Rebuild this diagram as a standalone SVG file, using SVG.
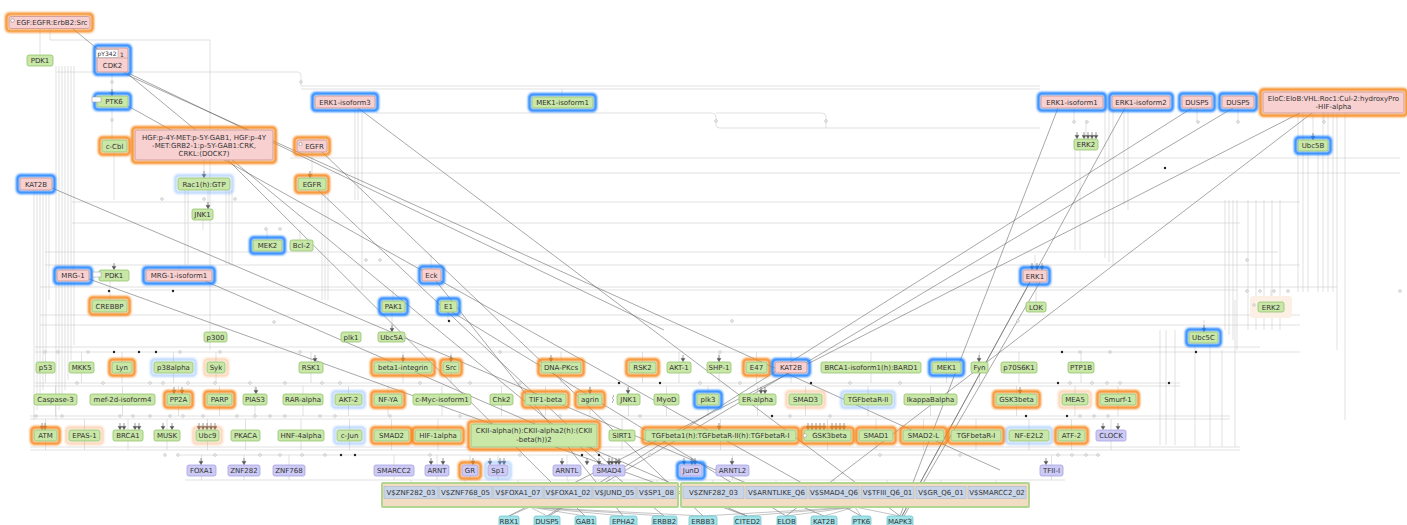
<svg xmlns="http://www.w3.org/2000/svg" width="1407" height="525" viewBox="0 0 1407 525">
<defs>
<filter id="gl" x="-30%" y="-60%" width="160%" height="220%"><feGaussianBlur stdDeviation="0.9"/></filter>
<path id="ar" d="M-1.8,-3.6 H1.8 L0,-0.4 Z M0,-3.6 V-7"/>
<style>
text{font-family:"DejaVu Sans","Liberation Sans",sans-serif;font-size:7px;fill:#333;text-anchor:middle}
.g{fill:#c9e7a7;stroke:#93c46e;stroke-width:0.8}
.p{fill:#f8d0d0;stroke:#c99090;stroke-width:0.8}
.v{fill:#cdcbf6;stroke:#a6a2e2;stroke-width:0.8}
.c{fill:#a3e3e9;stroke:#6cc6cf;stroke-width:0.8}
.ho,.hb,.hol,.hbl{fill:none;stroke-width:3;filter:url(#gl)}
.ho{stroke:#f6871f}
.hb{stroke:#1f80ff}
.hol{stroke:#f6a05a;opacity:.45}
.hbl{stroke:#6aa8ff;opacity:.45}
.e{fill:none;stroke:#cdcdcd;stroke-width:0.6}
.d{fill:none;stroke:#606060;stroke-width:0.55}
.m{fill:none;stroke:#8a8a8a;stroke-width:0.5}
.oc{fill:#fff;stroke:#aaa;stroke-width:0.6}
.bd{fill:#222}
.arr{fill:#555;stroke:#555;stroke-width:0.6}
.tag{fill:#fff;stroke:#999;stroke-width:0.5}
.mod{fill:#f2dcc2;stroke:#b3d592;stroke-width:2}
.cell{fill:#c8d5e8;stroke:#a9b8cc;stroke-width:0.6}
</style>
</defs>
<rect width="1407" height="525" fill="#fff"/>

<g id="connectors">
<path class="e" d="M56,66V420 M59,66V410 M62,66V400 M65,66V390 M68,66V380 M71,66V360 M74,66V345 M34,190V420 M37,190V410 M40,190V400 M43,190V390 M46,190V352 M49,190V300"/>
<path class="e" d="M57,72H298Q301,72 301,76V86H1040 M301,89H1040 M376,113H712Q716,113 716,117V125Q716,128 720,128H1040 M716,113H822Q826,113 826,117V128 M290,158H1400 M330,173H1400"/>
<path class="e" d="M72,202H1300 M72,223H1240 M45,252H1278 M45,265H1300 M40,287H1337 M130,290H1237 M40,315H1300 M40,325H1300 M35,347H1260 M35,352H1300 M35,383H1180 M35,386H1180 M30,416H1230 M30,419H1230 M30,447H1240 M30,450H1240 M180,455H1100 M185,480H1065"/>
<path class="e" d="M185,190V265 M188,190V265 M226,190V265 M229,190V265 M232,190V265 M322,190V300 M325,190V300 M328,190V300 M362,113V290 M358,108V200 M355,108V200 M204,160V178 M312,152V178 M112,72V96 M112,107V140 M114,152V200 M40,29V55 M50,29V40H210V350 M208,190V209 M203,220V230 M267,230V240 M300,230V240 M73,265V270 M179,265V270 M110,281V300 M392,312V332 M448,312V321 M393,290V301 M431,255V269 M1035,255V270 M1036,282V302 M1271,290V302 M1204,320V332 M1086,120V139 M1313,113V140 M562,89V97"/>
<path class="e" d="M1105,108V258 M1109,108V262 M1113,108V266 M1124,108V205 M1128,108V210 M1075,150V250 M1080,150V250 M1225,200V330 M1229,200V335 M1233,200V340 M1237,200V350 M1248,200V330 M1256,200V330 M1264,200V330 M1272,200V330 M1280,200V330 M1298,113V292 M1303,113V292 M1308,150V292 M1318,150V292 M1323,113V292 M1328,113V292 M1333,113V292 M1337,113V350 M1345,113V420 M1160,330V445 M1166,330V445 M1175,330V445 M1195,345V447 M1210,345V447 M1222,350V447 M1235,300V447 M1197,108V122 M1238,108V122 M1324,113V122 M1074,108V122"/>
<path class="e" d="M45.5,362V352M81.5,362V352M122,362V352M173.5,362V352M216,362V352M311,362V352M403,362V352M451,362V352M561,362V352M642.5,362V352M679,362V352M719,362V352M756.5,362V352M791,362V352M871,362V352M946.5,362V352M979.5,362V352M1019,362V352M1081,362V352 M45.5,373V383M81.5,373V383M122,373V383M173.5,373V383M216,373V383M311,373V383M403,373V383M451,373V383M561,373V383M642.5,373V383M679,373V383M719,373V383M756.5,373V383M791,373V383M871,373V383M946.5,373V383M979.5,373V383M1019,373V383M1081,373V383"/>
<path class="e" d="M55.5,394V386M122.5,394V386M178.5,394V386M219.5,394V386M255,394V386M303,394V386M348.5,394V386M388,394V386M442,394V386M501.5,394V386M545.5,394V386M590,394V386M628.5,394V386M666.5,394V386M708,394V386M757.5,394V386M805.5,394V386M868,394V386M930.5,394V386M1016.5,394V386M1075,394V386M1118,394V386 M55.5,405V416M122.5,405V416M178.5,405V416M219.5,405V416M255,405V416M303,405V416M348.5,405V416M388,405V416M442,405V416M501.5,405V416M545.5,405V416M590,405V416M628.5,405V416M666.5,405V416M708,405V416M757.5,405V416M805.5,405V416M868,405V416M930.5,405V416M1016.5,405V416M1075,405V416M1118,405V416"/>
<path class="e" d="M45.5,430V419M84.5,430V419M128,430V419M167,430V419M207.5,430V419M245.5,430V419M301,430V419M349.5,430V419M391.5,430V419M438,430V419M534,424V419M622,430V419M720.5,430V419M827.5,430V419M876,430V419M923.5,430V419M976,430V419M1029,430V419M1071.5,430V419M1111,430V419 M45.5,441V450M84.5,441V450M128,441V450M167,441V450M207.5,441V450M245.5,441V450M301,441V450M349.5,441V450M391.5,441V450M438,441V450M534,447V450M622,441V450M720.5,441V450M827.5,441V450M876,441V450M923.5,441V450M976,441V450M1029,441V450M1071.5,441V450M1111,441V450"/>
<path class="e" d="M201.5,465V455M244,465V455M289,465V455M394,465V455M437,465V455M470,465V455M498,465V455M567,465V455M609,465V455M691,465V455M732.5,465V455M1051.5,465V455 M201.5,476V480M244,476V480M289,476V480M394,476V480M437,476V480M470,476V480M498,476V480M567,476V480M609,476V480M691,476V480M732.5,476V480M1051.5,476V480 M411,480V486 M465,480V486 M518,480V486 M568,480V486 M614,480V486 M657,480V486 M713,480V486 M776,480V486 M834,480V486 M887,480V486 M941,480V486 M996,480V486"/>
<path class="d" d="M72,28L664,516 M123,73L1000,470 M128,73L664,330 M228,160L585,516 M52,188L824,516 M89,279L747,516 M205,281L747,516 M128,106L861,516 M358,108L900,516 M436,281L623,516 M322,152L703,516 M318,190L610,465 M452,312L786,516 M1058,108L900,516 M1125,108L902,516 M1030,282L902,516 M1040,282L904,516 M1192,108L547,516 M1233,108L549,516 M1300,113L509,516 M1312,113L786,516"/>
<path class="m" d="M530,507L509,516 M530,507L547,516 M530,507L585,516 M530,507L623,516 M530,507L664,516 M530,507L703,516 M855,507L747,516 M855,507L786,516 M855,507L824,516 M855,507L861,516 M855,507L900,516 M855,507L703,516"/>
<g class="bd">
<circle cx="109" cy="291" r="1.2"/><circle cx="173" cy="291" r="1.2"/><circle cx="449" cy="321" r="1.2"/><circle cx="1165" cy="168" r="1.2"/><circle cx="114" cy="352" r="1.2"/><circle cx="139" cy="352" r="1.2"/><circle cx="156" cy="352" r="1.2"/><circle cx="619" cy="383" r="1.2"/><circle cx="660" cy="383" r="1.2"/><circle cx="811" cy="383" r="1.2"/><circle cx="772" cy="416" r="1.2"/><circle cx="1026" cy="416" r="1.2"/><circle cx="1062" cy="352" r="1.2"/><circle cx="1058" cy="383" r="1.2"/><circle cx="1169" cy="383" r="1.2"/><circle cx="1067" cy="416" r="1.2"/><circle cx="355" cy="455" r="1.2"/><circle cx="582" cy="455" r="1.2"/><circle cx="599" cy="455" r="1.2"/><circle cx="341" cy="455" r="1.2"/><circle cx="1196" cy="352" r="1.2"/>
</g>
<g class="oc">
<circle cx="301" cy="82" r="1.3"/><circle cx="716" cy="121" r="1.3"/><circle cx="826" cy="121" r="1.3"/><circle cx="1074" cy="122" r="1.3"/><circle cx="1087" cy="122" r="1.3"/><circle cx="1198" cy="122" r="1.3"/><circle cx="1238" cy="122" r="1.3"/><circle cx="1324" cy="122" r="1.3"/><circle cx="112" cy="82" r="1.3"/><circle cx="112" cy="120" r="1.3"/><circle cx="162" cy="199" r="1.3"/><circle cx="204" cy="199" r="1.3"/><circle cx="235" cy="199" r="1.3"/><circle cx="266" cy="229" r="1.3"/><circle cx="280" cy="229" r="1.3"/><circle cx="366" cy="260" r="1.3"/><circle cx="380" cy="260" r="1.3"/><circle cx="274" cy="322" r="1.3"/><circle cx="1247" cy="260" r="1.3"/><circle cx="1247" cy="291" r="1.3"/><circle cx="1260" cy="291" r="1.3"/><circle cx="1274" cy="291" r="1.3"/><circle cx="1288" cy="291" r="1.3"/><circle cx="1400" cy="291" r="1.3"/><circle cx="1018" cy="321" r="1.3"/><circle cx="732" cy="321" r="1.3"/>
<circle cx="45" cy="352" r="1.3"/><circle cx="58" cy="352" r="1.3"/><circle cx="88" cy="352" r="1.3"/><circle cx="180" cy="352" r="1.3"/><circle cx="220" cy="352" r="1.3"/><circle cx="300" cy="352" r="1.3"/><circle cx="500" cy="352" r="1.3"/><circle cx="720" cy="352" r="1.3"/><circle cx="1080" cy="352" r="1.3"/><circle cx="1110" cy="352" r="1.3"/>
<circle cx="77" cy="383" r="1.3"/><circle cx="103" cy="383" r="1.3"/><circle cx="150" cy="383" r="1.3"/><circle cx="163" cy="383" r="1.3"/><circle cx="188" cy="383" r="1.3"/><circle cx="215" cy="383" r="1.3"/><circle cx="250" cy="383" r="1.3"/><circle cx="285" cy="383" r="1.3"/><circle cx="322" cy="383" r="1.3"/><circle cx="340" cy="383" r="1.3"/><circle cx="420" cy="383" r="1.3"/><circle cx="470" cy="383" r="1.3"/><circle cx="520" cy="383" r="1.3"/><circle cx="700" cy="383" r="1.3"/><circle cx="740" cy="383" r="1.3"/><circle cx="850" cy="383" r="1.3"/><circle cx="900" cy="383" r="1.3"/><circle cx="1070" cy="383" r="1.3"/><circle cx="1092" cy="383" r="1.3"/><circle cx="1107" cy="383" r="1.3"/><circle cx="1120" cy="383" r="1.3"/>
<circle cx="36" cy="416" r="1.3"/><circle cx="62" cy="416" r="1.3"/><circle cx="120" cy="416" r="1.3"/><circle cx="133" cy="416" r="1.3"/><circle cx="150" cy="416" r="1.3"/><circle cx="170" cy="416" r="1.3"/><circle cx="183" cy="416" r="1.3"/><circle cx="203" cy="416" r="1.3"/><circle cx="237" cy="416" r="1.3"/><circle cx="255" cy="416" r="1.3"/><circle cx="270" cy="416" r="1.3"/><circle cx="285" cy="416" r="1.3"/><circle cx="320" cy="416" r="1.3"/><circle cx="335" cy="416" r="1.3"/><circle cx="390" cy="416" r="1.3"/><circle cx="460" cy="416" r="1.3"/><circle cx="560" cy="416" r="1.3"/><circle cx="640" cy="416" r="1.3"/><circle cx="790" cy="416" r="1.3"/><circle cx="830" cy="416" r="1.3"/><circle cx="1080" cy="416" r="1.3"/><circle cx="1094" cy="416" r="1.3"/><circle cx="1108" cy="416" r="1.3"/>
<circle cx="165" cy="455" r="1.3"/><circle cx="178" cy="455" r="1.3"/><circle cx="215" cy="455" r="1.3"/><circle cx="260" cy="455" r="1.3"/><circle cx="280" cy="455" r="1.3"/><circle cx="302" cy="455" r="1.3"/><circle cx="325" cy="455" r="1.3"/><circle cx="430" cy="455" r="1.3"/><circle cx="520" cy="455" r="1.3"/><circle cx="650" cy="455" r="1.3"/><circle cx="880" cy="455" r="1.3"/><circle cx="960" cy="455" r="1.3"/><circle cx="1058" cy="455" r="1.3"/><circle cx="1072" cy="455" r="1.3"/><circle cx="1086" cy="455" r="1.3"/><circle cx="1098" cy="455" r="1.3"/>
</g>
<g class="arr">
<use href="#ar" x="112" y="96"/><use href="#ar" x="208" y="209"/><use href="#ar" x="114" y="270"/><use href="#ar" x="392" y="332"/><use href="#ar" x="1204" y="332"/>
<use href="#ar" x="1077" y="139"/><use href="#ar" x="1084" y="139"/><use href="#ar" x="1088" y="139"/><use href="#ar" x="1092" y="139"/><use href="#ar" x="1096" y="139"/><use href="#ar" x="1313" y="140"/>
<use href="#ar" x="1032" y="270"/><use href="#ar" x="1037" y="270"/><use href="#ar" x="1042" y="270"/><use href="#ar" x="310" y="178"/><use href="#ar" x="204" y="178"/>
<use href="#ar" x="315" y="362"/><use href="#ar" x="403" y="362"/><use href="#ar" x="451" y="362"/><use href="#ar" x="551" y="362"/><use href="#ar" x="683" y="362"/><use href="#ar" x="719" y="362"/><use href="#ar" x="979" y="362"/>
<use href="#ar" x="174" y="394"/><use href="#ar" x="182" y="394"/><use href="#ar" x="256" y="394"/><use href="#ar" x="590" y="394"/><use href="#ar" x="628" y="394"/><use href="#ar" x="761" y="394"/><use href="#ar" x="765" y="394"/><use href="#ar" x="1020" y="394"/>
<use href="#ar" x="42" y="430"/><use href="#ar" x="45" y="430"/><use href="#ar" x="120" y="430"/><use href="#ar" x="124" y="430"/><use href="#ar" x="135" y="430"/><use href="#ar" x="139" y="430"/><use href="#ar" x="163" y="430"/><use href="#ar" x="172" y="430"/>
<use href="#ar" x="199" y="430"/><use href="#ar" x="203" y="430"/><use href="#ar" x="207" y="430"/><use href="#ar" x="211" y="430"/><use href="#ar" x="215" y="430"/><use href="#ar" x="719" y="430"/>
<use href="#ar" x="808" y="430"/><use href="#ar" x="812" y="430"/><use href="#ar" x="816" y="430"/><use href="#ar" x="820" y="430"/><use href="#ar" x="824" y="430"/><use href="#ar" x="832" y="430"/><use href="#ar" x="836" y="430"/><use href="#ar" x="840" y="430"/><use href="#ar" x="844" y="430"/>
<use href="#ar" x="1103" y="430"/><use href="#ar" x="1118" y="430"/>
<use href="#ar" x="201" y="465"/><use href="#ar" x="244" y="465"/><use href="#ar" x="431" y="465"/><use href="#ar" x="443" y="465"/><use href="#ar" x="473" y="465"/><use href="#ar" x="490" y="465"/><use href="#ar" x="500" y="465"/><use href="#ar" x="504" y="465"/><use href="#ar" x="562" y="465"/>
<use href="#ar" x="587" y="465"/><use href="#ar" x="599" y="465"/><use href="#ar" x="609" y="465"/><use href="#ar" x="612" y="465"/><use href="#ar" x="616" y="465"/><use href="#ar" x="619" y="465"/><use href="#ar" x="684" y="465"/><use href="#ar" x="692" y="465"/><use href="#ar" x="695" y="465"/><use href="#ar" x="732" y="465"/><use href="#ar" x="1046" y="465"/>
</g>
</g>

<g id="n-egf"><rect class="ho" x="6.5" y="14" width="86" height="17" rx="3"/><rect class="p" x="9" y="16.5" width="81" height="12" rx="2"/><circle cx="12.5" cy="20.5" r="1.8" fill="#fff" stroke="#777" stroke-width="0.5"/><text x="52" y="25">EGF:EGFR:ErbB2:Src</text></g>
<g id="n-cdk2"><rect class="hb" x="94.5" y="45.5" width="36" height="29" rx="3"/><rect class="p" x="97" y="48" width="31" height="24" rx="2"/><path d="M97,58H128" stroke="#c99090" stroke-width="0.6"/><rect class="tag" x="96" y="49.5" width="22" height="8"/><text x="107" y="56" style="font-size:6px">pY342</text><text x="122" y="56.5" style="font-size:6px">1</text><text x="112.5" y="68">CDK2</text></g>
<g id="n-pdk1a"><rect class="g" x="27" y="55" width="26" height="11" rx="2"/><text x="40" y="63">PDK1</text></g>
<g id="n-ptk6a"><rect class="hb" x="94.5" y="93.5" width="36" height="16" rx="3"/><rect class="g" x="97" y="96" width="31" height="11" rx="2"/><rect class="tag" x="92" y="97" width="9" height="5"/><text x="114" y="104">PTK6</text></g>
<g id="n-ccbl"><rect class="ho" x="99.5" y="137.5" width="30" height="17" rx="3"/><rect class="g" x="102" y="140" width="25" height="12" rx="2"/><text x="114.5" y="148.5">c-Cbl</text></g>
<g id="n-hgf"><rect class="ho" x="132.5" y="127.5" width="143" height="35" rx="3"/><rect class="p" x="135" y="130" width="138" height="30" rx="2"/><text x="204" y="139.5">HGF:p-4Y-MET:p-5Y-GAB1, HGF:p-4Y</text><text x="204" y="147.5">-MET:GRB2-1:p-5Y-GAB1:CRK,</text><text x="204" y="155.5">CRKL:(DOCK7)</text></g>
<g id="n-egfr1"><rect class="ho" x="294.5" y="137.5" width="35" height="17" rx="3"/><rect class="p" x="297" y="140" width="30" height="12" rx="2"/><circle cx="300.5" cy="144" r="1.6" fill="#fff" stroke="#777" stroke-width="0.5"/><text x="314.5" y="148.5">EGFR</text></g>
<g id="n-erk1iso3"><rect class="hb" x="312.5" y="93.5" width="65" height="17" rx="3"/><rect class="p" x="315" y="96" width="60" height="12" rx="2"/><text x="345" y="104.5">ERK1-isoform3</text></g>
<g id="n-mek1iso1"><rect class="hb" x="529.5" y="94.5" width="66" height="16" rx="3"/><rect class="g" x="532" y="97" width="61" height="11" rx="2"/><text x="562.5" y="105">MEK1-isoform1</text></g>
<g id="n-erk1iso1"><rect class="hb" x="1038.5" y="93.5" width="67" height="17" rx="3"/><rect class="p" x="1041" y="96" width="62" height="12" rx="2"/><text x="1072" y="104.5">ERK1-isoform1</text></g>
<g id="n-erk1iso2"><rect class="hb" x="1109.5" y="93.5" width="63" height="17" rx="3"/><rect class="p" x="1112" y="96" width="58" height="12" rx="2"/><text x="1141" y="104.5">ERK1-isoform2</text></g>
<g id="n-dusp5a"><rect class="hb" x="1179.5" y="93.5" width="35" height="17" rx="3"/><rect class="p" x="1182" y="96" width="30" height="12" rx="2"/><text x="1197" y="104.5">DUSP5</text></g>
<g id="n-dusp5b"><rect class="hb" x="1219.5" y="93.5" width="37" height="17" rx="3"/><rect class="p" x="1222" y="96" width="32" height="12" rx="2"/><text x="1238" y="104.5">DUSP5</text></g>
<g id="n-eloc"><rect class="ho" x="1260.5" y="89.5" width="146" height="26" rx="3"/><rect class="p" x="1263" y="92" width="141" height="21" rx="2"/><text x="1333.5" y="100.5">EloC:EloB:VHL:Roc1:Cul-2:hydroxyPro</text><text x="1333.5" y="109">-HIF-alpha</text></g>
<g id="n-erk2a"><rect class="g" x="1074" y="139" width="24" height="11" rx="2"/><text x="1086" y="147">ERK2</text></g>
<g id="n-ubc5b"><rect class="hb" x="1295.5" y="137.5" width="35" height="16" rx="3"/><rect class="g" x="1298" y="140" width="30" height="11" rx="2"/><text x="1313" y="148">Ubc5B</text></g>
<g id="n-kat2b1"><rect class="hb" x="17.5" y="175.5" width="37" height="17" rx="3"/><rect class="p" x="20" y="178" width="32" height="12" rx="2"/><text x="36" y="186.5">KAT2B</text></g>
<g id="n-rac1"><rect class="hbl" x="175.5" y="175.5" width="57" height="17" rx="3"/><rect class="g" x="178" y="178" width="52" height="12" rx="2"/><text x="204" y="186.5">Rac1(h):GTP</text></g>
<g id="n-egfr2"><rect class="ho" x="295.5" y="175.5" width="33" height="17" rx="3"/><rect class="g" x="298" y="178" width="28" height="12" rx="2"/><text x="312" y="186.5">EGFR</text></g>
<g id="n-jnk1a"><rect class="g" x="192" y="209" width="21" height="11" rx="2"/><text x="202.5" y="217">JNK1</text></g>
<g id="n-mek2"><rect class="hb" x="250.5" y="237.5" width="34" height="16" rx="3"/><rect class="g" x="253" y="240" width="29" height="11" rx="2"/><text x="267.5" y="248">MEK2</text></g>
<g id="n-bcl2"><rect class="g" x="290" y="240" width="23" height="11" rx="2"/><text x="301.5" y="248">Bcl-2</text></g>
<g id="n-mrg1"><rect class="hb" x="54.5" y="267.5" width="37" height="16" rx="3"/><rect class="p" x="57" y="270" width="32" height="11" rx="2"/><text x="73" y="278">MRG-1</text></g>
<g id="n-pdk1b"><rect class="g" x="99" y="270" width="30" height="11" rx="2"/><rect class="tag" x="93" y="272" width="8" height="5"/><text x="114" y="278">PDK1</text></g>
<g id="n-mrg1iso"><rect class="hb" x="143.5" y="267.5" width="71" height="16" rx="3"/><rect class="p" x="146" y="270" width="66" height="11" rx="2"/><text x="179" y="278">MRG-1-isoform1</text></g>
<g id="n-eck"><rect class="hb" x="419.5" y="266.5" width="24" height="17" rx="3"/><rect class="p" x="422" y="269" width="19" height="12" rx="2"/><text x="431.5" y="277.5">Eck</text></g>
<g id="n-erk1"><rect class="hb" x="1020.5" y="267.5" width="29" height="17" rx="3"/><rect class="p" x="1023" y="270" width="24" height="12" rx="2"/><text x="1035" y="278.5">ERK1</text></g>
<g id="n-crebbp"><rect class="ho" x="89.5" y="297.5" width="40" height="17" rx="3"/><rect class="g" x="92" y="300" width="35" height="12" rx="2"/><text x="109.5" y="308.5">CREBBP</text></g>
<g id="n-pak1"><rect class="hb" x="379.5" y="298.5" width="28" height="16" rx="3"/><rect class="g" x="382" y="301" width="23" height="11" rx="2"/><text x="393.5" y="309">PAK1</text></g>
<g id="n-e1"><rect class="hb" x="437.5" y="298.5" width="22" height="16" rx="3"/><rect class="g" x="440" y="301" width="17" height="11" rx="2"/><text x="448.5" y="309">E1</text></g>
<g id="n-lok"><rect class="g" x="1026" y="302" width="20" height="10" rx="2"/><text x="1036" y="309.5">LOK</text></g>
<g id="n-erk2b"><rect x="1250" y="296" width="42" height="22" rx="3" fill="#fcf0e4"/><circle cx="1254" cy="305" r="1.2" fill="#fff" stroke="#999" stroke-width="0.5"/><rect class="g" x="1258" y="302" width="26" height="10" rx="2"/><text x="1271" y="309.5">ERK2</text></g>
<g id="n-p300"><rect class="g" x="204" y="332" width="23" height="10" rx="2"/><text x="215.5" y="339.5">p300</text></g>
<g id="n-plk1"><rect class="g" x="341" y="332" width="20" height="10" rx="2"/><text x="351" y="339.5">plk1</text></g>
<g id="n-ubc5a"><rect class="g" x="378" y="332" width="27" height="10" rx="2"/><text x="391.5" y="339.5">Ubc5A</text></g>
<g id="n-ubc5c"><rect class="hb" x="1186.5" y="329.5" width="34" height="16" rx="3"/><rect class="g" x="1189" y="332" width="29" height="11" rx="2"/><text x="1203.5" y="340">Ubc5C</text></g>

<g id="n-p53"><rect class="g" x="36" y="362" width="19" height="11" rx="2"/><text x="45.5" y="370">p53</text></g>
<g id="n-mkk5"><rect class="g" x="69" y="362" width="25" height="11" rx="2"/><text x="81.5" y="370">MKK5</text></g>
<g id="n-lyn"><rect class="ho" x="109.5" y="359.5" width="25" height="16" rx="3"/><rect class="g" x="112" y="362" width="20" height="11" rx="2"/><text x="122" y="370">Lyn</text></g>
<g id="n-p38"><rect class="hbl" x="151.5" y="359.5" width="44" height="16" rx="3"/><rect class="g" x="154" y="362" width="39" height="11" rx="2"/><text x="173.5" y="370">p38alpha</text></g>
<g id="n-syk"><rect class="hol" x="204.5" y="359.5" width="23" height="16" rx="3"/><rect class="g" x="207" y="362" width="18" height="11" rx="2"/><text x="216" y="370">Syk</text></g>
<g id="n-rsk1"><rect class="g" x="299" y="362" width="24" height="11" rx="2"/><text x="311" y="370">RSK1</text></g>
<g id="n-beta1"><rect class="ho" x="371.5" y="359.5" width="63" height="16" rx="3"/><rect class="g" x="374" y="362" width="58" height="11" rx="2"/><text x="403" y="370">beta1-integrin</text></g>
<g id="n-src"><rect class="ho" x="440.5" y="359.5" width="21" height="16" rx="3"/><rect class="g" x="443" y="362" width="16" height="11" rx="2"/><text x="451" y="370">Src</text></g>
<g id="n-dnapk"><rect class="ho" x="538.5" y="359.5" width="45" height="16" rx="3"/><rect class="g" x="541" y="362" width="40" height="11" rx="2"/><text x="561" y="370">DNA-PKcs</text></g>
<g id="n-rsk2"><rect class="ho" x="626.5" y="359.5" width="32" height="16" rx="3"/><rect class="g" x="629" y="362" width="27" height="11" rx="2"/><text x="642.5" y="370">RSK2</text></g>
<g id="n-akt1"><rect class="g" x="667" y="362" width="24" height="11" rx="2"/><text x="679" y="370">AKT-1</text></g>
<g id="n-shp1"><rect class="g" x="707" y="362" width="24" height="11" rx="2"/><text x="719" y="370">SHP-1</text></g>
<g id="n-e47"><rect class="ho" x="743.5" y="359.5" width="26" height="16" rx="3"/><rect class="g" x="746" y="362" width="21" height="11" rx="2"/><text x="756.5" y="370">E47</text></g>
<g id="n-kat2b2"><rect class="hb" x="772.5" y="359.5" width="37" height="16" rx="3"/><rect class="p" x="775" y="362" width="32" height="11" rx="2"/><text x="791" y="370">KAT2B</text></g>
<g id="n-brca1iso"><rect class="g" x="821" y="362" width="100" height="11" rx="2"/><text x="871" y="370">BRCA1-isoform1(h):BARD1</text></g>
<g id="n-mek1"><rect class="hb" x="929.5" y="359.5" width="34" height="16" rx="3"/><rect class="g" x="932" y="362" width="29" height="11" rx="2"/><text x="946.5" y="370">MEK1</text></g>
<g id="n-fyn"><rect class="g" x="971" y="362" width="17" height="11" rx="2"/><text x="979.5" y="370">Fyn</text></g>
<g id="n-p70"><rect class="g" x="1001" y="362" width="36" height="11" rx="2"/><text x="1019" y="370">p70S6K1</text></g>
<g id="n-ptp1b"><rect class="g" x="1068" y="362" width="26" height="11" rx="2"/><text x="1081" y="370">PTP1B</text></g>

<g id="n-casp3"><rect class="g" x="34" y="394" width="43" height="11" rx="2"/><text x="55.5" y="402">Caspase-3</text></g>
<g id="n-mef2d"><rect class="g" x="90" y="394" width="65" height="11" rx="2"/><text x="122.5" y="402">mef-2d-isoform4</text></g>
<g id="n-pp2a"><rect class="ho" x="164.5" y="391.5" width="28" height="16" rx="3"/><rect class="g" x="167" y="394" width="23" height="11" rx="2"/><text x="178.5" y="402">PP2A</text></g>
<g id="n-parp"><rect class="ho" x="204.5" y="391.5" width="30" height="16" rx="3"/><rect class="g" x="207" y="394" width="25" height="11" rx="2"/><text x="219.5" y="402">PARP</text></g>
<g id="n-pias3"><rect class="g" x="243" y="394" width="24" height="11" rx="2"/><text x="255" y="402">PIAS3</text></g>
<g id="n-rar"><rect class="g" x="283" y="394" width="40" height="11" rx="2"/><text x="303" y="402">RAR-alpha</text></g>
<g id="n-akt2"><rect class="hbl" x="332.5" y="391.5" width="32" height="16" rx="3"/><rect class="g" x="335" y="394" width="27" height="11" rx="2"/><text x="348.5" y="402">AKT-2</text></g>
<g id="n-nfya"><rect class="ho" x="371.5" y="391.5" width="33" height="16" rx="3"/><rect class="g" x="374" y="394" width="28" height="11" rx="2"/><text x="388" y="402">NF-YA</text></g>
<g id="n-cmyc"><rect class="g" x="413" y="394" width="58" height="11" rx="2"/><text x="442" y="402">c-Myc-isoform1</text></g>
<g id="n-chk2"><rect class="g" x="490" y="394" width="23" height="11" rx="2"/><text x="501.5" y="402">Chk2</text></g>
<g id="n-tif1b"><rect class="ho" x="522.5" y="391.5" width="46" height="16" rx="3"/><rect class="g" x="525" y="394" width="41" height="11" rx="2"/><text x="545.5" y="402">TIF1-beta</text></g>
<g id="n-agrin"><rect class="ho" x="575.5" y="391.5" width="29" height="16" rx="3"/><rect class="g" x="578" y="394" width="24" height="11" rx="2"/><text x="590" y="402">agrin</text></g>
<g id="n-jnk1b"><path d="M613,395q1.5,1 0,2q-1.5,1 0,2q1.5,1 0,2q-1.5,1 0,2" fill="none" stroke="#777" stroke-width="0.6"/><rect class="g" x="617" y="394" width="23" height="11" rx="2"/><text x="628.5" y="402">JNK1</text></g>
<g id="n-myod"><rect class="g" x="654" y="394" width="25" height="11" rx="2"/><text x="666.5" y="402">MyoD</text></g>
<g id="n-plk3"><rect class="hb" x="694.5" y="391.5" width="27" height="16" rx="3"/><rect class="g" x="697" y="394" width="22" height="11" rx="2"/><text x="708" y="402">plk3</text></g>
<g id="n-eralpha"><rect class="g" x="739" y="394" width="37" height="11" rx="2"/><text x="757.5" y="402">ER-alpha</text></g>
<g id="n-smad3"><rect class="hol" x="786.5" y="391.5" width="38" height="16" rx="3"/><rect class="g" x="789" y="394" width="33" height="11" rx="2"/><text x="805.5" y="402">SMAD3</text></g>
<g id="n-tgfbr2"><rect class="hbl" x="841.5" y="391.5" width="53" height="16" rx="3"/><rect class="g" x="844" y="394" width="48" height="11" rx="2"/><text x="868" y="402">TGFbetaR-II</text></g>
<g id="n-ikba"><rect class="g" x="904" y="394" width="53" height="11" rx="2"/><text x="930.5" y="402">IkappaBalpha</text></g>
<g id="n-gsk3b1"><rect class="ho" x="993.5" y="391.5" width="46" height="16" rx="3"/><rect class="g" x="996" y="394" width="41" height="11" rx="2"/><text x="1016.5" y="402">GSK3beta</text></g>
<g id="n-mea5"><rect class="hol" x="1059.5" y="391.5" width="31" height="16" rx="3"/><rect class="g" x="1062" y="394" width="26" height="11" rx="2"/><text x="1075" y="402">MEA5</text></g>
<g id="n-smurf1"><rect class="ho" x="1097.5" y="391.5" width="41" height="16" rx="3"/><rect class="g" x="1100" y="394" width="36" height="11" rx="2"/><text x="1118" y="402">Smurf-1</text></g>

<g id="n-atm"><rect class="ho" x="31.5" y="427.5" width="28" height="16" rx="3"/><rect class="g" x="34" y="430" width="23" height="11" rx="2"/><text x="45.5" y="438">ATM</text></g>
<g id="n-epas1"><rect class="hol" x="66.5" y="427.5" width="36" height="16" rx="3"/><rect class="g" x="69" y="430" width="31" height="11" rx="2"/><text x="84.5" y="438">EPAS-1</text></g>
<g id="n-brca1"><rect class="g" x="113" y="430" width="30" height="11" rx="2"/><text x="128" y="438">BRCA1</text></g>
<g id="n-musk"><rect class="g" x="154" y="430" width="26" height="11" rx="2"/><text x="167" y="438">MUSK</text></g>
<g id="n-ubc9"><rect class="hol" x="193.5" y="427.5" width="28" height="16" rx="3"/><rect class="g" x="196" y="430" width="23" height="11" rx="2"/><text x="207.5" y="438">Ubc9</text></g>
<g id="n-pkaca"><rect class="g" x="231" y="430" width="29" height="11" rx="2"/><text x="245.5" y="438">PKACA</text></g>
<g id="n-hnf4a"><rect class="g" x="278" y="430" width="46" height="11" rx="2"/><text x="301" y="438">HNF-4alpha</text></g>
<g id="n-cjun"><rect class="hbl" x="334.5" y="427.5" width="30" height="16" rx="3"/><rect class="g" x="337" y="430" width="25" height="11" rx="2"/><text x="349.5" y="438">c-Jun</text></g>
<g id="n-smad2"><rect class="ho" x="371.5" y="427.5" width="40" height="16" rx="3"/><rect class="g" x="374" y="430" width="35" height="11" rx="2"/><text x="391.5" y="438">SMAD2</text></g>
<g id="n-hif1a"><rect class="ho" x="412.5" y="427.5" width="51" height="16" rx="3"/><rect class="g" x="415" y="430" width="46" height="11" rx="2"/><text x="438" y="438">HIF-1alpha</text></g>
<g id="n-ckii"><rect class="ho" x="468.5" y="421.5" width="131" height="28" rx="3"/><rect class="g" x="471" y="424" width="126" height="23" rx="2"/><text x="534" y="433">CKII-alpha(h):CKII-alpha2(h):(CKII</text><text x="534" y="442">-beta(h))2</text></g>
<g id="n-sirt1"><rect class="g" x="609" y="430" width="26" height="11" rx="2"/><text x="622" y="438">SIRT1</text></g>
<g id="n-tgfb1"><rect class="ho" x="642.5" y="427.5" width="156" height="16" rx="3"/><rect class="g" x="645" y="430" width="151" height="11" rx="2"/><text x="720.5" y="438">TGFbeta1(h):TGFbetaR-II(h):TGFbetaR-I</text></g>
<g id="n-gsk3b2"><rect class="ho" x="801.5" y="427.5" width="52" height="16" rx="3"/><rect class="g" x="804" y="430" width="47" height="11" rx="2"/><circle cx="805" cy="435.5" r="1.8" fill="#fff" stroke="#999" stroke-width="0.5"/><text x="829.5" y="438">GSK3beta</text></g>
<g id="n-smad1"><rect class="ho" x="856.5" y="427.5" width="39" height="16" rx="3"/><rect class="g" x="859" y="430" width="34" height="11" rx="2"/><text x="876" y="438">SMAD1</text></g>
<g id="n-smad2l"><rect class="ho" x="900.5" y="427.5" width="46" height="16" rx="3"/><rect class="g" x="903" y="430" width="41" height="11" rx="2"/><text x="923.5" y="438">SMAD2-L</text></g>
<g id="n-tgfbr1"><rect class="ho" x="948.5" y="427.5" width="55" height="16" rx="3"/><rect class="g" x="951" y="430" width="50" height="11" rx="2"/><text x="976" y="438">TGFbetaR-I</text></g>
<g id="n-nfe2l2"><rect class="hbl" x="1006.5" y="427.5" width="45" height="16" rx="3"/><rect class="g" x="1009" y="430" width="40" height="11" rx="2"/><text x="1029" y="438">NF-E2L2</text></g>
<g id="n-atf2"><rect class="ho" x="1055.5" y="427.5" width="32" height="16" rx="3"/><rect class="g" x="1058" y="430" width="27" height="11" rx="2"/><text x="1071.5" y="438">ATF-2</text></g>
<g id="n-clock"><rect class="v" x="1096" y="430" width="30" height="11" rx="2"/><text x="1111" y="438">CLOCK</text></g>

<g id="n-foxa1"><rect class="v" x="187" y="465" width="29" height="11" rx="2"/><text x="201.5" y="473">FOXA1</text></g>
<g id="n-znf282"><rect class="v" x="228" y="465" width="32" height="11" rx="2"/><text x="244" y="473">ZNF282</text></g>
<g id="n-znf768"><rect class="v" x="273" y="465" width="32" height="11" rx="2"/><text x="289" y="473">ZNF768</text></g>
<g id="n-smarcc2"><rect class="v" x="374" y="465" width="40" height="11" rx="2"/><text x="394" y="473">SMARCC2</text></g>
<g id="n-arnt"><rect class="v" x="425" y="465" width="24" height="11" rx="2"/><text x="437" y="473">ARNT</text></g>
<g id="n-gr"><rect class="ho" x="459.5" y="462.5" width="21" height="16" rx="3"/><rect class="v" x="462" y="465" width="16" height="11" rx="2"/><text x="470" y="473">GR</text></g>
<g id="n-sp1"><rect class="hbl" x="485.5" y="462.5" width="25" height="16" rx="3"/><rect class="v" x="488" y="465" width="20" height="11" rx="2"/><text x="498" y="473">Sp1</text></g>
<g id="n-arntl"><rect class="v" x="553" y="465" width="28" height="11" rx="2"/><text x="567" y="473">ARNTL</text></g>
<g id="n-smad4"><rect class="v" x="593" y="465" width="32" height="11" rx="2"/><text x="609" y="473">SMAD4</text></g>
<g id="n-jund"><rect class="hb" x="677.5" y="462.5" width="27" height="16" rx="3"/><rect class="v" x="680" y="465" width="22" height="11" rx="2"/><text x="691" y="473">JunD</text></g>
<g id="n-arntl2"><rect class="v" x="716" y="465" width="33" height="11" rx="2"/><text x="732.5" y="473">ARNTL2</text></g>
<g id="n-tfii"><rect class="v" x="1040" y="465" width="23" height="11" rx="2"/><text x="1051.5" y="473">TFII-I</text></g>

<g id="n-module1"><rect class="mod" x="382" y="483" width="296" height="24" rx="1"/>
<rect class="cell" x="384" y="486.5" width="54" height="12"/><text x="411" y="495">V$ZNF282_03</text>
<rect class="cell" x="439" y="486.5" width="53" height="12"/><text x="465.5" y="495">V$ZNF768_05</text>
<rect class="cell" x="493" y="486.5" width="50" height="12"/><text x="518" y="495">V$FOXA1_07</text>
<rect class="cell" x="544" y="486.5" width="48" height="12"/><text x="568" y="495">V$FOXA1_02</text>
<rect class="cell" x="593" y="486.5" width="43" height="12"/><text x="614.5" y="495">V$JUND_05</text>
<rect class="cell" x="637" y="486.5" width="39" height="12"/><text x="656.5" y="495">V$SP1_08</text></g>
<g id="n-module2"><rect class="mod" x="681" y="483" width="348" height="24" rx="1"/>
<rect class="cell" x="683" y="486.5" width="61" height="12"/><text x="713.5" y="495">V$ZNF282_03</text>
<rect class="cell" x="746" y="486.5" width="61" height="12"/><text x="776.5" y="495">V$ARNTLIKE_Q6</text>
<rect class="cell" x="809" y="486.5" width="50" height="12"/><text x="834" y="495">V$SMAD4_Q6</text>
<rect class="cell" x="861" y="486.5" width="53" height="12"/><text x="887.5" y="495">V$TFIII_Q6_01</text>
<rect class="cell" x="916" y="486.5" width="50" height="12"/><text x="941" y="495">V$GR_Q6_01</text>
<rect class="cell" x="968" y="486.5" width="58" height="12"/><text x="997" y="495">V$SMARCC2_02</text></g>

<g id="n-rbx1"><rect class="c" x="499" y="516" width="20" height="11" rx="2"/><text x="509" y="524">RBX1</text></g>
<g id="n-dusp5c"><rect class="c" x="534" y="516" width="26" height="11" rx="2"/><text x="547" y="524">DUSP5</text></g>
<g id="n-gab1"><rect class="c" x="575" y="516" width="21" height="11" rx="2"/><text x="585.5" y="524">GAB1</text></g>
<g id="n-epha2"><rect class="c" x="610" y="516" width="27" height="11" rx="2"/><text x="623.5" y="524">EPHA2</text></g>
<g id="n-erbb2"><rect class="c" x="652" y="516" width="25" height="11" rx="2"/><text x="664.5" y="524">ERBB2</text></g>
<g id="n-erbb3"><rect class="c" x="689" y="516" width="28" height="11" rx="2"/><text x="703" y="524">ERBB3</text></g>
<g id="n-cited2"><rect class="c" x="734" y="516" width="27" height="11" rx="2"/><text x="747.5" y="524">CITED2</text></g>
<g id="n-elob"><rect class="c" x="777" y="516" width="19" height="11" rx="2"/><text x="786.5" y="524">ELOB</text></g>
<g id="n-kat2b3"><rect class="c" x="811" y="516" width="26" height="11" rx="2"/><text x="824" y="524">KAT2B</text></g>
<g id="n-ptk6b"><rect class="c" x="852" y="516" width="19" height="11" rx="2"/><text x="861.5" y="524">PTK6</text></g>
<g id="n-mapk3"><rect class="c" x="887" y="516" width="26" height="11" rx="2"/><text x="900" y="524">MAPK3</text></g>
</svg>
